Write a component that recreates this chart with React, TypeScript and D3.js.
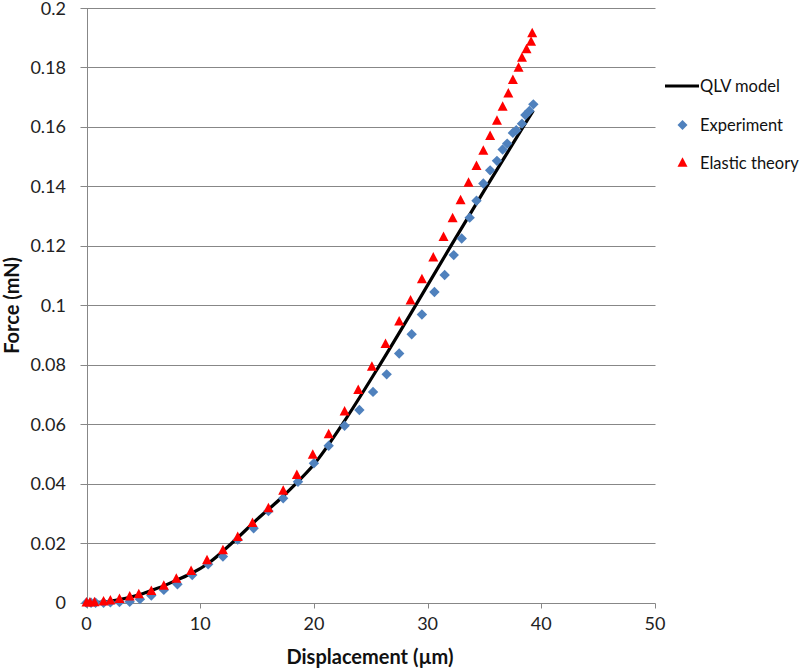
import React from "react";
import * as d3 from "d3";

const xTicks = [0, 10, 20, 30, 40, 50];
const yTicks = [0, 0.02, 0.04, 0.06, 0.08, 0.1, 0.12, 0.14, 0.16, 0.18, 0.2];
const yTickLabels = ["0", "0.02", "0.04", "0.06", "0.08", "0.1", "0.12", "0.14", "0.16", "0.18", "0.2"];

const qlvX = [0, 1, 2, 3, 4, 5, 6, 7, 8, 9.25, 10.7, 12.77, 15, 17, 18.4, 20, 22.5, 25.8, 28.95, 32.05, 35.2, 38.4, 39.3];
const qlvY = [0, 0.0001, 0.0005, 0.0011, 0.002, 0.0031, 0.0045, 0.006, 0.0077, 0.0099, 0.0132, 0.02, 0.028, 0.0348, 0.04, 0.0465, 0.06, 0.08, 0.1, 0.12, 0.14, 0.16, 0.1655];

const expX = [0, 0.4, 0.8, 1.5, 2.1, 2.9, 3.8, 4.7, 5.7, 6.8, 8.0, 9.3, 10.7, 12.0, 13.3, 14.7, 16.0, 17.3, 18.6, 20.0, 21.3, 22.7, 24.0, 25.2, 26.4, 27.5, 28.6, 29.5, 30.6, 31.5, 32.3, 33.0, 33.7, 34.3, 34.9, 35.5, 36.1, 36.6, 37.0, 37.5, 37.8, 38.3, 38.6, 38.95, 39.3];
const expY = [0, 0, 0, 0, 0.0001, 0.0002, 0.0003, 0.0012, 0.0024, 0.0043, 0.0062, 0.0093, 0.0129, 0.0155, 0.0212, 0.025, 0.0308, 0.0351, 0.0407, 0.0469, 0.0528, 0.0595, 0.0648, 0.0709, 0.0768, 0.0838, 0.0903, 0.0969, 0.1045, 0.1102, 0.1169, 0.1225, 0.1295, 0.1352, 0.141, 0.1454, 0.1486, 0.1524, 0.1544, 0.158, 0.1589, 0.1611, 0.164, 0.1654, 0.1676];

const elaX = [0, 0.3, 0.7, 1.5, 2.1, 2.9, 3.8, 4.6, 5.7, 6.8, 7.9, 9.2, 10.6, 12.0, 13.3, 14.6, 16.0, 17.3, 18.5, 19.9, 21.3, 22.7, 23.9, 25.1, 26.3, 27.5, 28.5, 29.5, 30.5, 31.4, 32.2, 32.9, 33.6, 34.3, 34.9, 35.5, 36.1, 36.6, 37.1, 37.5, 38.0, 38.3, 38.7, 39.1, 39.2];
const elaY = [0, 0, 0.0001, 0.0003, 0.0007, 0.0012, 0.002, 0.0028, 0.0039, 0.0056, 0.008, 0.0106, 0.0142, 0.0176, 0.022, 0.0267, 0.0317, 0.0376, 0.0429, 0.0497, 0.0566, 0.0642, 0.0715, 0.0793, 0.0869, 0.0945, 0.1016, 0.1087, 0.116, 0.1229, 0.1292, 0.1353, 0.1412, 0.1468, 0.1519, 0.1569, 0.162, 0.1667, 0.1712, 0.1757, 0.1798, 0.1832, 0.1861, 0.1886, 0.1914];

const legendLabels = ["QLV model", "Experiment", "Elastic theory"];
const xTitle = "Displacement (µm)";
const yTitle = "Force (mN)";

const FONT = "Lato, 'Open Sans', sans-serif";
const BLUE = "#4F81BD";
const RED = "#FF0000";
const GRID = "#878787";

const diamond = (cx: number, cy: number, r: number) =>
  `M${cx},${cy - r}L${cx + r},${cy}L${cx},${cy + r}L${cx - r},${cy}Z`;
const triangle = (cx: number, cy: number, w: number, h: number) =>
  `M${cx},${cy - h * 0.6}L${cx + w / 2},${cy + h * 0.4}L${cx - w / 2},${cy + h * 0.4}Z`;

export default function App() {
  const x = d3.scaleLinear().domain([0, 50]).range([86.5, 655]);
  const y = d3.scaleLinear().domain([0, 0.2]).range([602.7, 8]);
  const px = (v: number) => Math.round(x(v)) + 0.5;
  const py = (v: number) => Math.round(y(v)) + 0.5;

  const qlv = qlvX.map((v, i) => [v, qlvY[i]] as [number, number]);
  const line = d3
    .line<[number, number]>()
    .x((d) => x(d[0]))
    .y((d) => y(d[1]))
    .curve(d3.curveMonotoneX);

  const x0 = px(0);
  const xEnd = px(50);
  const yBase = py(0);
  const yTop = py(0.2);

  return (
    <svg
      width={800}
      height={670}
      style={{ position: "absolute", left: 0, top: 0, background: "#fff" }}
      fontFamily={FONT}
    >
      <rect width={800} height={670} fill="#fff" />
      {yTicks.map((t, i) => (
        <line key={"g" + i} x1={x0 - 7} x2={xEnd} y1={py(t)} y2={py(t)} stroke={GRID} strokeWidth={1} />
      ))}
      <line x1={x0} x2={x0} y1={yTop} y2={yBase} stroke={GRID} strokeWidth={1} />
      {xTicks.map((t, i) => (
        <line key={"xt" + i} x1={px(t)} x2={px(t)} y1={yBase} y2={yBase + 5} stroke={GRID} strokeWidth={1} />
      ))}
      {yTicks.map((t, i) => (
        <text key={"yl" + i} x={66} y={y(t) + 6.5} textAnchor="end" fontSize={18} fill="#222">
          {yTickLabels[i]}
        </text>
      ))}
      {xTicks.map((t, i) => (
        <text key={"xl" + i} x={x(t)} y={630} textAnchor="middle" fontSize={18} fill="#222">
          {t}
        </text>
      ))}
      <text x={370} y={664} textAnchor="middle" fontSize={20} fontWeight="bold" fill="#111">
        {xTitle}
      </text>
      <text
        transform={`translate(19,${y(0.1)}) rotate(-90)`}
        textAnchor="middle"
        fontSize={20}
        fontWeight="bold"
        fill="#111"
      >
        {yTitle}
      </text>

      <path d={line(qlv) || ""} fill="none" stroke="#000" strokeWidth={3.2} strokeLinejoin="round" />
      {expX.map((v, i) => (
        <path key={"e" + i} d={diamond(x(v), y(expY[i]), 5.2)} fill={BLUE} />
      ))}
      {elaX.map((v, i) => (
        <path key={"t" + i} d={triangle(x(v), y(elaY[i]), 10, 9.5)} fill={RED} />
      ))}

      <line x1={665} x2={699} y1={86} y2={86} stroke="#000" strokeWidth={3.2} />
      <text x={700} y={91.5} fontSize={16.5} fill="#111">{legendLabels[0]}</text>
      <path d={diamond(682.5, 125, 5)} fill={BLUE} />
      <text x={700} y={130.5} fontSize={16.5} fill="#111">{legendLabels[1]}</text>
      <path d={triangle(682.5, 163, 10, 9.5)} fill={RED} />
      <text x={700} y={168.5} fontSize={16.5} fill="#111">{legendLabels[2]}</text>
    </svg>
  );
}
